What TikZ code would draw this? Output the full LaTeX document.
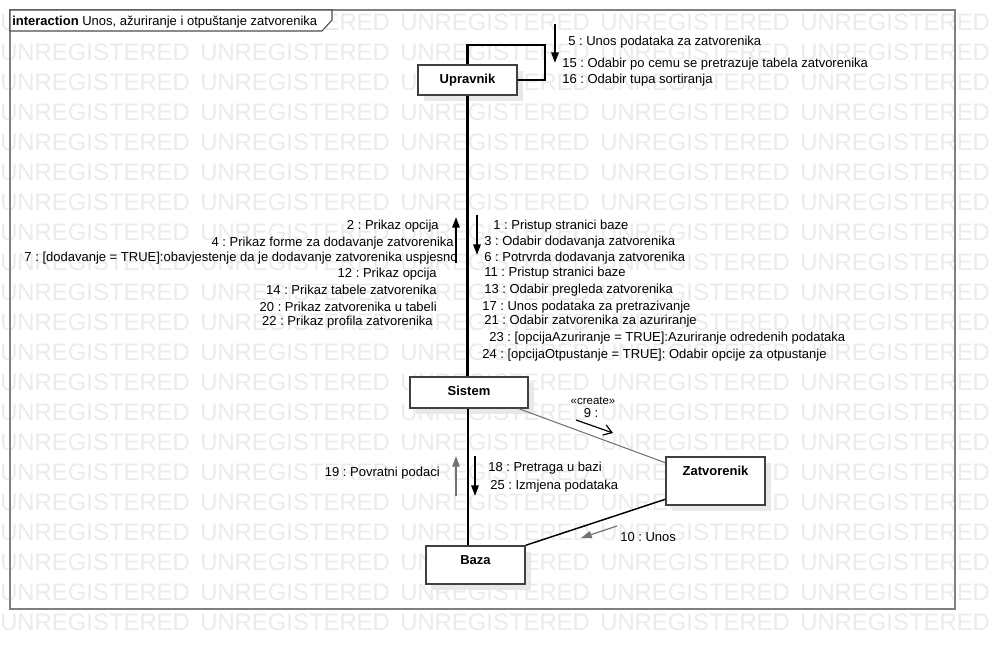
\documentclass[tikz,border=0pt]{standalone}
\usepackage{fontspec}
\setmainfont{Liberation Sans}
\usetikzlibrary{arrows.meta,shadows}
\frenchspacing

\tikzset{
  wmark/.style={anchor=west, inner sep=0pt, text=black!8, font=\fontsize{17.9}{20}\selectfont},
  frame/.style={draw=black!50, line width=1.1pt},
  tab/.style={draw=black!70, line width=0.8pt, fill=white},
  obj/.style={draw=black!75, line width=1.1pt, fill=white,
    drop shadow={shadow xshift=4.5pt, shadow yshift=-4.5pt, fill=black!9, opacity=1}},
  objname/.style={anchor=center, yshift=-10.9pt, inner sep=0pt, text height=7pt, text depth=0pt,
    font=\fontsize{9.75}{11.7}\selectfont\bfseries},
  msg/.style={inner sep=0pt, text height=7pt, text depth=0pt, font=\fontsize{9.75}{11.7}\selectfont},
  lifeline/.style={line width=2pt},
  arr/.style={line width=1.5pt, -{Triangle[length=8pt,width=5.5pt]}},
}

\begin{document}
\begin{tikzpicture}[x=0.75pt,y=-0.75pt]
  \useasboundingbox (0,0) rectangle (994,650);
  \foreach \r in {0,...,20}
    \foreach \c in {0,...,4}
      \node[wmark] (wm-\r-\c) at (\c*200,22+\r*30) {UNREGISTERED};

  \draw[frame] (10,10) rectangle (955,609);
  \draw[tab] (10,10) -- (332,10) -- (332,20) -- (322,31) -- (10,31) -- cycle;
  \node[msg, anchor=west] (title) at (12,21) {\textbf{interaction} Unos, ažuriranje i otpuštanje zatvorenika};

  \node[obj, minimum width=74.25pt, minimum height=22.5pt, label={[objname]north:Upravnik}] (upravnik) at (467.5,80) {};
  \node[obj, minimum width=88.5pt, minimum height=23.25pt, label={[objname]north:Sistem}] (sistem) at (469,392.5) {};
  \node[obj, minimum width=74.25pt, minimum height=28.5pt, label={[objname]north:Baza}] (baza) at (475.5,565) {};
  \node[obj, minimum width=74.25pt, minimum height=36pt, label={[objname]north:Zatvorenik}] (zatvorenik) at (715.5,481) {};

  \coordinate (loop) at (545,45);
  \draw[lifeline] (upravnik.south) -- (upravnik.south |- sistem.north);
  \draw[lifeline] (upravnik.north) |- (loop) |- (upravnik.east);
  \draw[line width=1.5pt] (sistem.south -| upravnik.south) -- (baza.north -| upravnik.south);
  \draw[black!55, line width=0.8pt] (sistem.-18) -- (zatvorenik.160);
  \draw[line width=1.1pt] (baza.north east) -- (zatvorenik.200);

  \coordinate (self-t) at (555,24);  \coordinate (self-h) at (555,63);
  \coordinate (up-t) at (456,263);   \coordinate (up-h) at (456,217);
  \coordinate (down-t) at (477,215); \coordinate (down-h) at (477,255);
  \coordinate (new-t) at (576,420);  \coordinate (new-h) at (613,433);
  \coordinate (back-t) at (456,496); \coordinate (back-h) at (456,456);
  \coordinate (db-t) at (475,456);   \coordinate (db-h) at (475,496);
  \coordinate (ins-t) at (617,526);  \coordinate (ins-h) at (581,538);
  \draw[arr] (self-t) -- (self-h);
  \draw[arr] (up-t) -- (up-h);
  \draw[arr] (down-t) -- (down-h);
  \draw[line width=0.9pt, -{Straight Barb[length=6pt,width=8pt]}] (new-t) -- (new-h);
  \draw[arr, black!55, line width=1pt] (back-t) -- (back-h);
  \draw[arr] (db-t) -- (db-h);
  \draw[arr, black!55, line width=0.9pt] (ins-t) -- (ins-h);

  \foreach \n/\x/\y/\t in {5/568/41/{Unos podataka za zatvorenika},
      15/562/63/{Odabir po cemu se pretrazuje tabela zatvorenika},
      16/562/79/{Odabir tupa sortiranja},
      1/493/225/{Pristup stranici baze},
      3/484/241/{Odabir dodavanja zatvorenika},
      6/484/257/{Potrvrda dodavanja zatvorenika},
      11/484/272/{Pristup stranici baze},
      13/484/289/{Odabir pregleda zatvorenika},
      17/482/306/{Unos podataka za pretrazivanje},
      21/484/320/{Odabir zatvorenika za azuriranje},
      23/489/337/{[opcijaAzuriranje = TRUE]:Azuriranje odredenih podataka},
      24/482/354/{[opcijaOtpustanje = TRUE]: Odabir opcije za otpustanje},
      18/488/467/{Pretraga u bazi},
      25/490/485/{Izmjena podataka},
      10/620/537/{Unos}}
    \node[msg, anchor=west] (m\n) at (\x,\y) {\n\ : \t};

  \foreach \n/\x/\y/\t in {2/439/225/{Prikaz opcija},
      4/454/242/{Prikaz forme za dodavanje zatvorenika},
      7/458/257/{[dodavanje = TRUE]:obavjestenje da je dodavanje zatvorenika uspjesno},
      12/437/273/{Prikaz opcija},
      14/437/290/{Prikaz tabele zatvorenika},
      20/437/307/{Prikaz zatvorenika u tabeli},
      22/433/321/{Prikaz profila zatvorenika},
      19/440/472/{Povratni podaci}}
    \node[msg, anchor=east] (m\n) at (\x,\y) {\n\ : \t};

  \node[msg, font=\fontsize{8.6}{10}\selectfont] (create) at (593,400) {«create»};
  \node[msg] (m9) at (591,413) {9 :};
\end{tikzpicture}
\end{document}
